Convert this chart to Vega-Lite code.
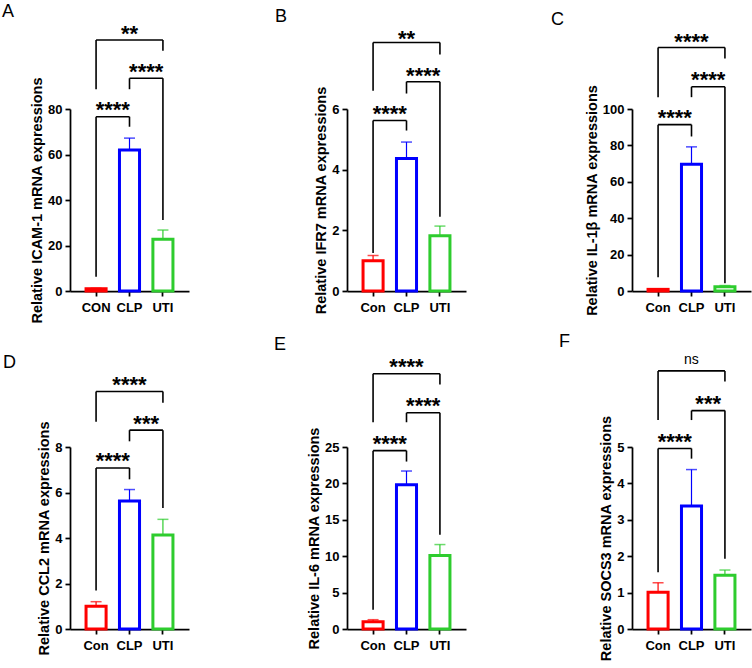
{
"$schema": "https://vega.github.io/schema/vega-lite/v6.json",
"background": "white",
"padding": {"left": 2, "top": 2, "right": 2, "bottom": 2},
"config": {
  "font": "Liberation Sans",
  "view": {"stroke": null},
  "axis": {"domainColor": "black", "domainWidth": 1.75, "tickColor": "black", "tickWidth": 1.75, "tickSize": 5, "labelFont": "Liberation Sans", "labelFontWeight": "bold", "labelFontSize": 13, "labelColor": "black", "labelOverlap": false, "titleFont": "Liberation Sans", "titleFontWeight": "bold", "titleFontSize": 14.5, "titleColor": "black", "grid": false},
  "axisX": {"labelAngle": 0, "labelPadding": 5},
  "axisY": {"labelPadding": 3, "titlePadding": 3, "tickCount": 12},
  "title": {"font": "Liberation Sans", "fontSize": 18, "fontWeight": "normal", "anchor": "start", "frame": "group", "offset": 2, "color": "black"}
},
"datasets": {
  "bars": [
    {"panel": "A", "group": "CON", "mean": 1.0, "upper": 1.2},
    {"panel": "A", "group": "CLP", "mean": 62.0, "upper": 67.2},
    {"panel": "A", "group": "UTI", "mean": 22.7, "upper": 26.8},
    {"panel": "B", "group": "Con", "mean": 1.0, "upper": 1.17},
    {"panel": "B", "group": "CLP", "mean": 4.37, "upper": 4.91},
    {"panel": "B", "group": "UTI", "mean": 1.82, "upper": 2.14},
    {"panel": "C", "group": "Con", "mean": 0.9, "upper": 1.2},
    {"panel": "C", "group": "CLP", "mean": 69.6, "upper": 79.2},
    {"panel": "C", "group": "UTI", "mean": 2.3, "upper": 3.0},
    {"panel": "D", "group": "Con", "mean": 1.0, "upper": 1.2},
    {"panel": "D", "group": "CLP", "mean": 5.63, "upper": 6.13},
    {"panel": "D", "group": "UTI", "mean": 4.13, "upper": 4.82},
    {"panel": "E", "group": "Con", "mean": 1.0, "upper": 1.28},
    {"panel": "E", "group": "CLP", "mean": 19.8, "upper": 21.7},
    {"panel": "E", "group": "UTI", "mean": 10.1, "upper": 11.6},
    {"panel": "F", "group": "Con", "mean": 1.01, "upper": 1.27},
    {"panel": "F", "group": "CLP", "mean": 3.38, "upper": 4.38},
    {"panel": "F", "group": "UTI", "mean": 1.48, "upper": 1.62}
  ],
  "brk": [
    {"panel": "A", "from": "CON", "to": "CLP", "span": 1, "top": 76.6, "lo1": 6.3, "lo2": 72.2, "ty": 82, "label": "****"},
    {"panel": "A", "from": "CLP", "to": "UTI", "span": 1, "top": 93.5, "lo1": 88.7, "lo2": 31.2, "ty": 99.1, "label": "****"},
    {"panel": "A", "from": "CON", "to": "UTI", "span": 2, "top": 110.3, "lo1": 88.7, "lo2": 105.6, "ty": 115.7, "label": "**"},
    {"panel": "B", "from": "Con", "to": "CLP", "span": 1, "top": 5.62, "lo1": 1.25, "lo2": 5.29, "ty": 6.02, "label": "****"},
    {"panel": "B", "from": "CLP", "to": "UTI", "span": 1, "top": 6.9, "lo1": 6.51, "lo2": 2.45, "ty": 7.28, "label": "****"},
    {"panel": "B", "from": "Con", "to": "UTI", "span": 2, "top": 8.19, "lo1": 6.6, "lo2": 7.8, "ty": 8.51, "label": "**"},
    {"panel": "C", "from": "Con", "to": "CLP", "span": 1, "top": 91.4, "lo1": 7.6, "lo2": 84.9, "ty": 98.2, "label": "****"},
    {"panel": "C", "from": "CLP", "to": "UTI", "span": 1, "top": 112.2, "lo1": 106.5, "lo2": 4.25, "ty": 119.4, "label": "****"},
    {"panel": "C", "from": "Con", "to": "UTI", "span": 2, "top": 133.8, "lo1": 106.5, "lo2": 127.8, "ty": 140.2, "label": "****"},
    {"panel": "D", "from": "Con", "to": "CLP", "span": 1, "top": 7.08, "lo1": 1.69, "lo2": 6.58, "ty": 7.64, "label": "****"},
    {"panel": "D", "from": "CLP", "to": "UTI", "span": 1, "top": 8.74, "lo1": 8.25, "lo2": 5.32, "ty": 9.29, "label": "***"},
    {"panel": "D", "from": "Con", "to": "UTI", "span": 2, "top": 10.44, "lo1": 9.11, "lo2": 9.95, "ty": 10.99, "label": "****"},
    {"panel": "E", "from": "Con", "to": "CLP", "span": 1, "top": 24.5, "lo1": 2.65, "lo2": 23.0, "ty": 26.2, "label": "****"},
    {"panel": "E", "from": "CLP", "to": "UTI", "span": 1, "top": 29.7, "lo1": 28.4, "lo2": 12.95, "ty": 31.5, "label": "****"},
    {"panel": "E", "from": "Con", "to": "UTI", "span": 2, "top": 35.07, "lo1": 28.4, "lo2": 33.6, "ty": 36.8, "label": "****"},
    {"panel": "F", "from": "Con", "to": "CLP", "span": 1, "top": 4.96, "lo1": 1.56, "lo2": 4.68, "ty": 5.3, "label": "****"},
    {"panel": "F", "from": "CLP", "to": "UTI", "span": 1, "top": 6.0, "lo1": 5.74, "lo2": 1.93, "ty": 6.35, "label": "***"},
    {"panel": "F", "from": "Con", "to": "UTI", "span": 2, "top": 7.09, "lo1": 5.74, "lo2": 6.8, "ty": 7.39, "label": "ns"}
  ]
},
"columns": 3,
"align": "each",
"spacing": {"row": 9, "column": 85},
"concat": [
{
 "title": {"text": "A", "dx": -68},
 "width": 119, "height": 182,
 "layer": [
  {"data": {"name": "bars"}, "transform": [{"filter": "datum.panel === 'A'"}],
   "mark": {"type": "bar", "filled": false, "fill": "white", "strokeWidth": 3},
   "encoding": {
     "x": {"field": "group", "type": "nominal", "scale": {"domain": ["CON", "CLP", "UTI"], "paddingInner": 0.4, "paddingOuter": 0.48}, "axis": {"title": null}},
     "y": {"field": "mean", "type": "quantitative", "scale": {"domain": [0, 80], "nice": false}, "axis": {"title": "Relative ICAM-1 mRNA expressions", "values": [0, 20, 40, 60, 80], "format": "d", "tickCount": 12, "labelOverlap": false}},
     "color": {"field": "group", "type": "nominal", "scale": {"domain": ["CON", "Con", "CLP", "UTI"], "range": ["#ff0000", "#ff0000", "#0000ff", "#2ecc2e"]}, "legend": null}}},
  {"data": {"name": "bars"}, "transform": [{"filter": "datum.panel === 'A'"}],
   "mark": {"type": "rule", "strokeWidth": 1.2},
   "encoding": {"x": {"field": "group", "type": "nominal"}, "y": {"field": "mean", "type": "quantitative"}, "y2": {"field": "upper"}, "color": {"field": "group", "type": "nominal", "legend": null}}},
  {"data": {"name": "bars"}, "transform": [{"filter": "datum.panel === 'A'"}],
   "mark": {"type": "tick", "thickness": 1.5, "size": 11},
   "encoding": {"x": {"field": "group", "type": "nominal"}, "y": {"field": "upper", "type": "quantitative"}, "color": {"field": "group", "type": "nominal", "legend": null}}},
  {"data": {"name": "brk"}, "transform": [{"filter": "datum.panel === 'A'"}],
   "mark": {"type": "rule", "strokeWidth": 1.6, "color": "black"},
   "encoding": {"x": {"field": "from", "type": "nominal"}, "x2": {"field": "to"}, "y": {"field": "top", "type": "quantitative"}}},
  {"data": {"name": "brk"}, "transform": [{"filter": "datum.panel === 'A'"}],
   "mark": {"type": "rule", "strokeWidth": 1.6, "color": "black"},
   "encoding": {"x": {"field": "from", "type": "nominal"}, "y": {"field": "top", "type": "quantitative"}, "y2": {"field": "lo1"}}},
  {"data": {"name": "brk"}, "transform": [{"filter": "datum.panel === 'A'"}],
   "mark": {"type": "rule", "strokeWidth": 1.6, "color": "black"},
   "encoding": {"x": {"field": "to", "type": "nominal"}, "y": {"field": "top", "type": "quantitative"}, "y2": {"field": "lo2"}}},
  {"data": {"name": "brk"}, "transform": [{"filter": "datum.panel === 'A' && datum.span === 1"}],
   "mark": {"type": "text", "fontSize": 22, "fontWeight": "bold", "dx": 16.7, "dy": 6, "color": "black"},
   "encoding": {"x": {"field": "from", "type": "nominal"}, "y": {"field": "ty", "type": "quantitative"}, "text": {"field": "label"}}},
  {"data": {"name": "brk"}, "transform": [{"filter": "datum.panel === 'A' && datum.span === 2"}],
   "mark": {"type": "text", "fontSize": 22, "fontWeight": "bold", "dx": 33.4, "dy": 6, "color": "black"},
   "encoding": {"x": {"field": "from", "type": "nominal"}, "y": {"field": "ty", "type": "quantitative"}, "text": {"field": "label"}}}
 ]
},
{
 "title": {"text": "B", "dx": -72},
 "width": 119, "height": 182,
 "layer": [
  {"data": {"name": "bars"}, "transform": [{"filter": "datum.panel === 'B'"}],
   "mark": {"type": "bar", "filled": false, "fill": "white", "strokeWidth": 3},
   "encoding": {
     "x": {"field": "group", "type": "nominal", "scale": {"domain": ["Con", "CLP", "UTI"], "paddingInner": 0.4, "paddingOuter": 0.48}, "axis": {"title": null}},
     "y": {"field": "mean", "type": "quantitative", "scale": {"domain": [0, 6], "nice": false}, "axis": {"title": "Relative IFR7 mRNA expressions", "values": [0, 2, 4, 6], "format": "d", "tickCount": 12, "labelOverlap": false}},
     "color": {"field": "group", "type": "nominal", "scale": {"domain": ["CON", "Con", "CLP", "UTI"], "range": ["#ff0000", "#ff0000", "#0000ff", "#2ecc2e"]}, "legend": null}}},
  {"data": {"name": "bars"}, "transform": [{"filter": "datum.panel === 'B'"}],
   "mark": {"type": "rule", "strokeWidth": 1.2},
   "encoding": {"x": {"field": "group", "type": "nominal"}, "y": {"field": "mean", "type": "quantitative"}, "y2": {"field": "upper"}, "color": {"field": "group", "type": "nominal", "legend": null}}},
  {"data": {"name": "bars"}, "transform": [{"filter": "datum.panel === 'B'"}],
   "mark": {"type": "tick", "thickness": 1.5, "size": 11},
   "encoding": {"x": {"field": "group", "type": "nominal"}, "y": {"field": "upper", "type": "quantitative"}, "color": {"field": "group", "type": "nominal", "legend": null}}},
  {"data": {"name": "brk"}, "transform": [{"filter": "datum.panel === 'B'"}],
   "mark": {"type": "rule", "strokeWidth": 1.6, "color": "black"},
   "encoding": {"x": {"field": "from", "type": "nominal"}, "x2": {"field": "to"}, "y": {"field": "top", "type": "quantitative"}}},
  {"data": {"name": "brk"}, "transform": [{"filter": "datum.panel === 'B'"}],
   "mark": {"type": "rule", "strokeWidth": 1.6, "color": "black"},
   "encoding": {"x": {"field": "from", "type": "nominal"}, "y": {"field": "top", "type": "quantitative"}, "y2": {"field": "lo1"}}},
  {"data": {"name": "brk"}, "transform": [{"filter": "datum.panel === 'B'"}],
   "mark": {"type": "rule", "strokeWidth": 1.6, "color": "black"},
   "encoding": {"x": {"field": "to", "type": "nominal"}, "y": {"field": "top", "type": "quantitative"}, "y2": {"field": "lo2"}}},
  {"data": {"name": "brk"}, "transform": [{"filter": "datum.panel === 'B' && datum.span === 1"}],
   "mark": {"type": "text", "fontSize": 22, "fontWeight": "bold", "dx": 16.7, "dy": 6, "color": "black"},
   "encoding": {"x": {"field": "from", "type": "nominal"}, "y": {"field": "ty", "type": "quantitative"}, "text": {"field": "label"}}},
  {"data": {"name": "brk"}, "transform": [{"filter": "datum.panel === 'B' && datum.span === 2"}],
   "mark": {"type": "text", "fontSize": 22, "fontWeight": "bold", "dx": 33.4, "dy": 6, "color": "black"},
   "encoding": {"x": {"field": "from", "type": "nominal"}, "y": {"field": "ty", "type": "quantitative"}, "text": {"field": "label"}}}
 ]
},
{
 "title": {"text": "C", "dx": -81},
 "width": 119, "height": 182,
 "layer": [
  {"data": {"name": "bars"}, "transform": [{"filter": "datum.panel === 'C'"}],
   "mark": {"type": "bar", "filled": false, "fill": "white", "strokeWidth": 3},
   "encoding": {
     "x": {"field": "group", "type": "nominal", "scale": {"domain": ["Con", "CLP", "UTI"], "paddingInner": 0.4, "paddingOuter": 0.48}, "axis": {"title": null}},
     "y": {"field": "mean", "type": "quantitative", "scale": {"domain": [0, 100], "nice": false}, "axis": {"title": "Relative IL-1β mRNA expressions", "values": [0, 20, 40, 60, 80, 100], "format": "d", "tickCount": 12, "labelOverlap": false}},
     "color": {"field": "group", "type": "nominal", "scale": {"domain": ["CON", "Con", "CLP", "UTI"], "range": ["#ff0000", "#ff0000", "#0000ff", "#2ecc2e"]}, "legend": null}}},
  {"data": {"name": "bars"}, "transform": [{"filter": "datum.panel === 'C'"}],
   "mark": {"type": "rule", "strokeWidth": 1.2},
   "encoding": {"x": {"field": "group", "type": "nominal"}, "y": {"field": "mean", "type": "quantitative"}, "y2": {"field": "upper"}, "color": {"field": "group", "type": "nominal", "legend": null}}},
  {"data": {"name": "bars"}, "transform": [{"filter": "datum.panel === 'C'"}],
   "mark": {"type": "tick", "thickness": 1.5, "size": 11},
   "encoding": {"x": {"field": "group", "type": "nominal"}, "y": {"field": "upper", "type": "quantitative"}, "color": {"field": "group", "type": "nominal", "legend": null}}},
  {"data": {"name": "brk"}, "transform": [{"filter": "datum.panel === 'C'"}],
   "mark": {"type": "rule", "strokeWidth": 1.6, "color": "black"},
   "encoding": {"x": {"field": "from", "type": "nominal"}, "x2": {"field": "to"}, "y": {"field": "top", "type": "quantitative"}}},
  {"data": {"name": "brk"}, "transform": [{"filter": "datum.panel === 'C'"}],
   "mark": {"type": "rule", "strokeWidth": 1.6, "color": "black"},
   "encoding": {"x": {"field": "from", "type": "nominal"}, "y": {"field": "top", "type": "quantitative"}, "y2": {"field": "lo1"}}},
  {"data": {"name": "brk"}, "transform": [{"filter": "datum.panel === 'C'"}],
   "mark": {"type": "rule", "strokeWidth": 1.6, "color": "black"},
   "encoding": {"x": {"field": "to", "type": "nominal"}, "y": {"field": "top", "type": "quantitative"}, "y2": {"field": "lo2"}}},
  {"data": {"name": "brk"}, "transform": [{"filter": "datum.panel === 'C' && datum.span === 1"}],
   "mark": {"type": "text", "fontSize": 22, "fontWeight": "bold", "dx": 16.7, "dy": 6, "color": "black"},
   "encoding": {"x": {"field": "from", "type": "nominal"}, "y": {"field": "ty", "type": "quantitative"}, "text": {"field": "label"}}},
  {"data": {"name": "brk"}, "transform": [{"filter": "datum.panel === 'C' && datum.span === 2"}],
   "mark": {"type": "text", "fontSize": 22, "fontWeight": "bold", "dx": 33.4, "dy": 6, "color": "black"},
   "encoding": {"x": {"field": "from", "type": "nominal"}, "y": {"field": "ty", "type": "quantitative"}, "text": {"field": "label"}}}
 ]
},
{
 "title": {"text": "D", "dx": -67},
 "width": 119, "height": 182,
 "layer": [
  {"data": {"name": "bars"}, "transform": [{"filter": "datum.panel === 'D'"}],
   "mark": {"type": "bar", "filled": false, "fill": "white", "strokeWidth": 3},
   "encoding": {
     "x": {"field": "group", "type": "nominal", "scale": {"domain": ["Con", "CLP", "UTI"], "paddingInner": 0.4, "paddingOuter": 0.48}, "axis": {"title": null}},
     "y": {"field": "mean", "type": "quantitative", "scale": {"domain": [0, 8], "nice": false}, "axis": {"title": "Relative CCL2 mRNA expressions", "values": [0, 2, 4, 6, 8], "format": "d", "tickCount": 12, "labelOverlap": false}},
     "color": {"field": "group", "type": "nominal", "scale": {"domain": ["CON", "Con", "CLP", "UTI"], "range": ["#ff0000", "#ff0000", "#0000ff", "#2ecc2e"]}, "legend": null}}},
  {"data": {"name": "bars"}, "transform": [{"filter": "datum.panel === 'D'"}],
   "mark": {"type": "rule", "strokeWidth": 1.2},
   "encoding": {"x": {"field": "group", "type": "nominal"}, "y": {"field": "mean", "type": "quantitative"}, "y2": {"field": "upper"}, "color": {"field": "group", "type": "nominal", "legend": null}}},
  {"data": {"name": "bars"}, "transform": [{"filter": "datum.panel === 'D'"}],
   "mark": {"type": "tick", "thickness": 1.5, "size": 11},
   "encoding": {"x": {"field": "group", "type": "nominal"}, "y": {"field": "upper", "type": "quantitative"}, "color": {"field": "group", "type": "nominal", "legend": null}}},
  {"data": {"name": "brk"}, "transform": [{"filter": "datum.panel === 'D'"}],
   "mark": {"type": "rule", "strokeWidth": 1.6, "color": "black"},
   "encoding": {"x": {"field": "from", "type": "nominal"}, "x2": {"field": "to"}, "y": {"field": "top", "type": "quantitative"}}},
  {"data": {"name": "brk"}, "transform": [{"filter": "datum.panel === 'D'"}],
   "mark": {"type": "rule", "strokeWidth": 1.6, "color": "black"},
   "encoding": {"x": {"field": "from", "type": "nominal"}, "y": {"field": "top", "type": "quantitative"}, "y2": {"field": "lo1"}}},
  {"data": {"name": "brk"}, "transform": [{"filter": "datum.panel === 'D'"}],
   "mark": {"type": "rule", "strokeWidth": 1.6, "color": "black"},
   "encoding": {"x": {"field": "to", "type": "nominal"}, "y": {"field": "top", "type": "quantitative"}, "y2": {"field": "lo2"}}},
  {"data": {"name": "brk"}, "transform": [{"filter": "datum.panel === 'D' && datum.span === 1"}],
   "mark": {"type": "text", "fontSize": 22, "fontWeight": "bold", "dx": 16.7, "dy": 6, "color": "black"},
   "encoding": {"x": {"field": "from", "type": "nominal"}, "y": {"field": "ty", "type": "quantitative"}, "text": {"field": "label"}}},
  {"data": {"name": "brk"}, "transform": [{"filter": "datum.panel === 'D' && datum.span === 2"}],
   "mark": {"type": "text", "fontSize": 22, "fontWeight": "bold", "dx": 33.4, "dy": 6, "color": "black"},
   "encoding": {"x": {"field": "from", "type": "nominal"}, "y": {"field": "ty", "type": "quantitative"}, "text": {"field": "label"}}}
 ]
},
{
 "title": {"text": "E", "dx": -73},
 "width": 119, "height": 182,
 "layer": [
  {"data": {"name": "bars"}, "transform": [{"filter": "datum.panel === 'E'"}],
   "mark": {"type": "bar", "filled": false, "fill": "white", "strokeWidth": 3},
   "encoding": {
     "x": {"field": "group", "type": "nominal", "scale": {"domain": ["Con", "CLP", "UTI"], "paddingInner": 0.4, "paddingOuter": 0.48}, "axis": {"title": null}},
     "y": {"field": "mean", "type": "quantitative", "scale": {"domain": [0, 25], "nice": false}, "axis": {"title": "Relative IL-6 mRNA expressions", "values": [0, 5, 10, 15, 20, 25], "format": "d", "tickCount": 12, "labelOverlap": false}},
     "color": {"field": "group", "type": "nominal", "scale": {"domain": ["CON", "Con", "CLP", "UTI"], "range": ["#ff0000", "#ff0000", "#0000ff", "#2ecc2e"]}, "legend": null}}},
  {"data": {"name": "bars"}, "transform": [{"filter": "datum.panel === 'E'"}],
   "mark": {"type": "rule", "strokeWidth": 1.2},
   "encoding": {"x": {"field": "group", "type": "nominal"}, "y": {"field": "mean", "type": "quantitative"}, "y2": {"field": "upper"}, "color": {"field": "group", "type": "nominal", "legend": null}}},
  {"data": {"name": "bars"}, "transform": [{"filter": "datum.panel === 'E'"}],
   "mark": {"type": "tick", "thickness": 1.5, "size": 11},
   "encoding": {"x": {"field": "group", "type": "nominal"}, "y": {"field": "upper", "type": "quantitative"}, "color": {"field": "group", "type": "nominal", "legend": null}}},
  {"data": {"name": "brk"}, "transform": [{"filter": "datum.panel === 'E'"}],
   "mark": {"type": "rule", "strokeWidth": 1.6, "color": "black"},
   "encoding": {"x": {"field": "from", "type": "nominal"}, "x2": {"field": "to"}, "y": {"field": "top", "type": "quantitative"}}},
  {"data": {"name": "brk"}, "transform": [{"filter": "datum.panel === 'E'"}],
   "mark": {"type": "rule", "strokeWidth": 1.6, "color": "black"},
   "encoding": {"x": {"field": "from", "type": "nominal"}, "y": {"field": "top", "type": "quantitative"}, "y2": {"field": "lo1"}}},
  {"data": {"name": "brk"}, "transform": [{"filter": "datum.panel === 'E'"}],
   "mark": {"type": "rule", "strokeWidth": 1.6, "color": "black"},
   "encoding": {"x": {"field": "to", "type": "nominal"}, "y": {"field": "top", "type": "quantitative"}, "y2": {"field": "lo2"}}},
  {"data": {"name": "brk"}, "transform": [{"filter": "datum.panel === 'E' && datum.span === 1"}],
   "mark": {"type": "text", "fontSize": 22, "fontWeight": "bold", "dx": 16.7, "dy": 6, "color": "black"},
   "encoding": {"x": {"field": "from", "type": "nominal"}, "y": {"field": "ty", "type": "quantitative"}, "text": {"field": "label"}}},
  {"data": {"name": "brk"}, "transform": [{"filter": "datum.panel === 'E' && datum.span === 2"}],
   "mark": {"type": "text", "fontSize": 22, "fontWeight": "bold", "dx": 33.4, "dy": 6, "color": "black"},
   "encoding": {"x": {"field": "from", "type": "nominal"}, "y": {"field": "ty", "type": "quantitative"}, "text": {"field": "label"}}}
 ]
},
{
 "title": {"text": "F", "dx": -73},
 "width": 119, "height": 182,
 "layer": [
  {"data": {"name": "bars"}, "transform": [{"filter": "datum.panel === 'F'"}],
   "mark": {"type": "bar", "filled": false, "fill": "white", "strokeWidth": 3},
   "encoding": {
     "x": {"field": "group", "type": "nominal", "scale": {"domain": ["Con", "CLP", "UTI"], "paddingInner": 0.4, "paddingOuter": 0.48}, "axis": {"title": null}},
     "y": {"field": "mean", "type": "quantitative", "scale": {"domain": [0, 5], "nice": false}, "axis": {"title": "Relative SOCS3 mRNA expressions", "values": [0, 1, 2, 3, 4, 5], "format": "d", "tickCount": 12, "labelOverlap": false}},
     "color": {"field": "group", "type": "nominal", "scale": {"domain": ["CON", "Con", "CLP", "UTI"], "range": ["#ff0000", "#ff0000", "#0000ff", "#2ecc2e"]}, "legend": null}}},
  {"data": {"name": "bars"}, "transform": [{"filter": "datum.panel === 'F'"}],
   "mark": {"type": "rule", "strokeWidth": 1.2},
   "encoding": {"x": {"field": "group", "type": "nominal"}, "y": {"field": "mean", "type": "quantitative"}, "y2": {"field": "upper"}, "color": {"field": "group", "type": "nominal", "legend": null}}},
  {"data": {"name": "bars"}, "transform": [{"filter": "datum.panel === 'F'"}],
   "mark": {"type": "tick", "thickness": 1.5, "size": 11},
   "encoding": {"x": {"field": "group", "type": "nominal"}, "y": {"field": "upper", "type": "quantitative"}, "color": {"field": "group", "type": "nominal", "legend": null}}},
  {"data": {"name": "brk"}, "transform": [{"filter": "datum.panel === 'F'"}],
   "mark": {"type": "rule", "strokeWidth": 1.6, "color": "black"},
   "encoding": {"x": {"field": "from", "type": "nominal"}, "x2": {"field": "to"}, "y": {"field": "top", "type": "quantitative"}}},
  {"data": {"name": "brk"}, "transform": [{"filter": "datum.panel === 'F'"}],
   "mark": {"type": "rule", "strokeWidth": 1.6, "color": "black"},
   "encoding": {"x": {"field": "from", "type": "nominal"}, "y": {"field": "top", "type": "quantitative"}, "y2": {"field": "lo1"}}},
  {"data": {"name": "brk"}, "transform": [{"filter": "datum.panel === 'F'"}],
   "mark": {"type": "rule", "strokeWidth": 1.6, "color": "black"},
   "encoding": {"x": {"field": "to", "type": "nominal"}, "y": {"field": "top", "type": "quantitative"}, "y2": {"field": "lo2"}}},
  {"data": {"name": "brk"}, "transform": [{"filter": "datum.panel === 'F' && datum.span === 1"}],
   "mark": {"type": "text", "fontSize": 22, "fontWeight": "bold", "dx": 16.7, "dy": 6, "color": "black"},
   "encoding": {"x": {"field": "from", "type": "nominal"}, "y": {"field": "ty", "type": "quantitative"}, "text": {"field": "label"}}},
  {"data": {"name": "brk"}, "transform": [{"filter": "datum.panel === 'F' && datum.span === 2"}],
   "mark": {"type": "text", "fontSize": 14, "fontWeight": "normal", "dx": 33.4, "dy": 0, "color": "black"},
   "encoding": {"x": {"field": "from", "type": "nominal"}, "y": {"field": "ty", "type": "quantitative"}, "text": {"field": "label"}}}
 ]
}
]
}
